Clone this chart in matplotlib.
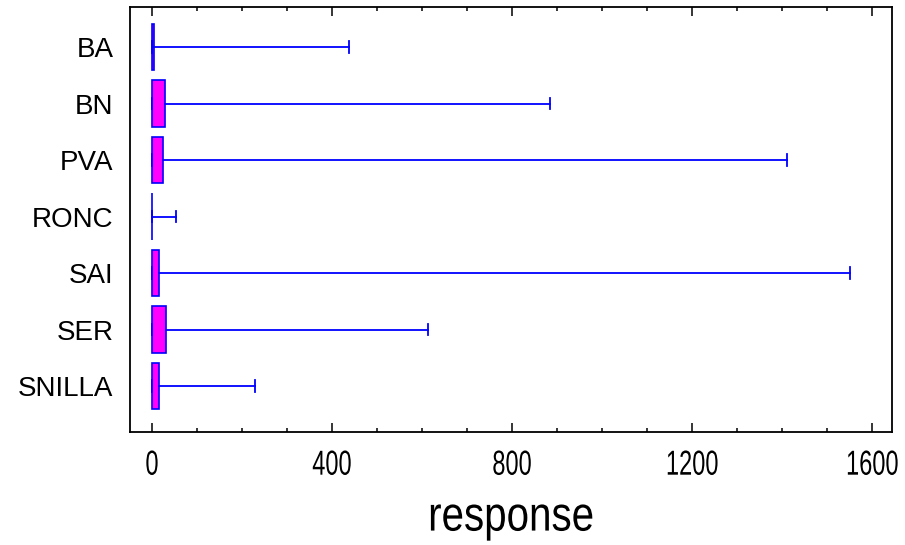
import matplotlib
matplotlib.use("Agg")
import matplotlib.pyplot as plt
from matplotlib.ticker import MultipleLocator
from matplotlib.patheffects import AbstractPathEffect
from matplotlib.transforms import Affine2D

# group names, top to bottom
groups = ['BA', 'BN', 'PVA', 'RONC', 'SAI', 'SER', 'SNILLA']
q1 = [0, 0, 0, 0, 0, 0, 0]
med = [1, 3, 3, 0, 2, 3, 2]
q3 = [4, 29, 25, 1, 16, 31, 16]
wmin = [0, 0, 0, 0, 0, 0, 0]
wmax = [438, 884, 1411, 53, 1551, 613, 229]


class Condense(AbstractPathEffect):
    # squeeze text horizontally around its centre (no narrow font installed)
    def __init__(self, sx):
        super().__init__()
        self.sx = sx

    def draw_path(self, renderer, gc, tpath, affine, rgbFace=None):
        ext = tpath.get_extents(affine)
        cx = (ext.x0 + ext.x1) / 2
        aff = affine + Affine2D().translate(-cx, 0).scale(self.sx, 1).translate(cx, 0)
        renderer.draw_path(gc, tpath, aff, rgbFace)


plt.rcParams['font.family'] = ['Liberation Sans', 'DejaVu Sans']

fig = plt.figure(figsize=(9.05, 5.45), dpi=100)
ax = fig.add_axes([0.1436, 0.2073, 0.8420, 0.7798])

stats = []
for i in range(len(groups)):
    stats.append({'label': groups[i], 'q1': q1[i], 'med': med[i], 'q3': q3[i],
                  'whislo': wmin[i], 'whishi': wmax[i], 'fliers': []})

pos = list(range(len(groups), 0, -1))
ax.bxp(stats, positions=pos, vert=False, widths=0.82, capwidths=0.2,
       showfliers=False, patch_artist=True,
       boxprops=dict(facecolor='#ff00ff', edgecolor='#0000ff', linewidth=1.2),
       whiskerprops=dict(color='#0000ff', linewidth=1.3),
       capprops=dict(color='#0000ff', linewidth=1.3),
       medianprops=dict(color='#ff00ff', linewidth=0))

ax.set_xlim(-49, 1644)
ax.set_ylim(0.186, 7.708)
ax.xaxis.set_major_locator(MultipleLocator(400))
ax.xaxis.set_minor_locator(MultipleLocator(100))
ax.tick_params(axis='x', which='both', direction='in', top=True, bottom=True, width=1.1)
ax.tick_params(axis='x', which='major', length=6.5, pad=12)
ax.tick_params(axis='x', which='minor', length=3.2)
ax.tick_params(axis='y', length=0, pad=12, labelsize=20)
for lab in ax.get_xticklabels():
    lab.set_fontsize(25)
    lab.set_path_effects([Condense(0.68)])
for s in ax.spines.values():
    s.set_linewidth(1.3)

ax.set_xlabel('response', fontsize=35, labelpad=10, path_effects=[Condense(0.83)])

fig.savefig('out.png', dpi=100)
